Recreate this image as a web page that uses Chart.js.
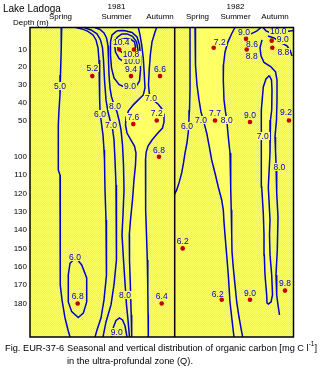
<!DOCTYPE html>
<html><head><meta charset="utf-8">
<script src="https://cdn.jsdelivr.net/npm/chart.js@4.4.1/dist/chart.umd.min.js"></script>
<style>html,body{margin:0;padding:0;background:#fff;}#wrap{width:324px;height:370px;position:relative;}canvas{display:block;}</style>
</head><body><div id="wrap"><canvas id="c" width="324" height="370"></canvas></div>
<script>
// ---------------- data ----------------
const chartTitle = 'Lake Ladoga';
const depthTitle = 'Depth (m)';
const captionFig = 'Fig. EUR-37-6';
const captionLine1 = 'Seasonal and vertical distribution of organic carbon [mg C l';
const captionSup = '-1';
const captionEnd = ']';
const captionLine2 = 'in the ultra-profundal zone (Q).';

// time axis (arbitrary time index), seasons
const seasonNames = ['Spring','Summer','Autumn','Spring','Summer','Autumn'];
const seasonYears = ['', '1981', '', '', '1982', ''];
const seasonX = [30.5, 86.5, 130, 167.5, 205.5, 245];
const timeMin = 0, timeMax = 263.5;
const yearBoundaryX = 144.7;

// depth axis (m)
const depthTicks = [10,20,30,40,50,100,110,120,130,140,150,160,170,180];
const depthMin = -2.4, depthMax = 198.3;

// measurements: time index, depth (m), organic carbon (mg C/l)
const sampleX     = [62.3, 89.3, 104, 101, 130, 103.3, 126.7, 129, 47.7, 131.7, 183.7, 216, 216.7, 241.7, 242.3, 185, 220, 259, 152.7, 191.7, 220, 255];
const sampleDepth = [25, 10, 10, 25, 25, 55, 50, 100, 180, 180, 9, 4, 10, 5, 9, 50, 52, 50, 150, 178, 178, 173];
const sampleValue = [5.2, 10.4, 10.8, 9.4, 6.6, 7.6, 7.2, 6.8, 6.8, 6.4, 7.2, 8.6, 8.8, 9.0, 8.8, 7.7, 9.0, 9.2, 6.2, 6.2, 9.0, 9.8];

// contour labels
const contourLabelX     = [30, 70, 81, 85, 100, 101.7, 121, 45, 95, 86.7, 157, 171, 196.7, 214, 248.3, 232.7, 249.3];
const contourLabelDepth = [30.5, 46.6, 56.2, 42.1, 30.5, 16.8, 37.3, 154.7, 175.4, 195.4, 57.6, 49.7, 49.7, 0, -0.5, 71.0, 105.5];
const contourLabelLevel = [5.0, 6.0, 7.0, 8.0, 9.0, 10.0, 7.0, 6.0, 8.0, 9.0, 6.0, 7.0, 8.0, 9.0, 10.0, 7.0, 8.0];

// contour lines: [time index, depth m]
const contour50_1981 = [[31.7,-2.4],[31.2,10.3],[30.5,24.3],[30,35.6],[29,44.1],[28.3,56.2],[28.3,107.2],[30,110.0],[30,150.8],[30.5,169.9],[32,178.1],[35,187.9],[38,194.5],[40,198.3]];
const contour60_1981 = [[46,-2.4],[52,-1.6],[58,-0.2],[63,1.8],[66,4.6],[68,9.1],[69,15.9],[69.5,27.2],[69.8,38.4],[70,44.1],[71,49.7],[73,70.1],[74,90.8],[74.5,101.8],[75,118.1],[76,134.5],[76.7,145.4],[76.7,153.6],[76,164.5],[74,178.1],[71,188.0],[67,194.5],[65,198.3]];
const contour60_1981_loop = [[45,155.5],[40,158.1],[38.3,164.5],[38.3,179.2],[41.7,184.5],[48.3,187.7],[53.3,185.3],[56.7,179.2],[56.7,166.1],[51.7,159.0],[47,155.8],[45,155.5]];
const contour70_1981 = [[54,-2.4],[61,-1.0],[67,1.2],[70.5,4.6],[72.5,9.1],[73.5,15.9],[74.5,27.2],[76,38.4],[78,45.2],[80,49.7],[82.7,63.1],[84,77.0],[85,101.8],[86,115.4],[86.7,129.0],[86.7,142.6],[86,156.2],[84,169.8],[81,180.8],[76,190.1],[73,198.3]];
const contour80_1981 = [[65,-2.4],[70,-1.3],[74,0.7],[76.5,3.5],[78,8.0],[78.5,15.9],[79,24.3],[80,31.7],[81.5,36.7],[83.5,40.1],[87,45.2],[89,49.7],[91,63.1],[92.5,83.9],[93.5,104.5],[94,118.1],[93,131.8],[92,142.6],[93.5,156.2],[95,168.8],[96.5,180.8],[98,189.0],[99.5,198.3]];
const contour90_1981_arch = [[81.7,198.3],[83.5,192.8],[86,189.3],[89.5,187.9],[92.5,189.0],[95,192.2],[97,198.3]];
const contour90_1981_loop = [[87,-0.5],[82,1.8],[80.5,5.7],[80.5,13.1],[81.5,20.4],[84,26.0],[89,29.7],[94,31.1],[106.5,30.5],[109.5,27.7],[110.5,21.5],[110.5,14.2],[109.5,7.4],[107,2.9],[102,0.4],[94,-0.7],[87,-0.5]];
const contour100_1981_loop = [[92,1.2],[87,3.2],[84.5,6.9],[85.5,11.4],[89,15.0],[94,17.0],[107.5,15.3],[108,10.3],[106.5,5.7],[102.5,2.6],[97,1.2],[92,1.2]];
const contour105_1981_loop = [[90.5,4.3],[87.5,6.6],[88,9.7],[92,11.7],[97,11.9],[103,11.1],[105.5,8.6],[104.5,5.7],[101,4.3],[96,3.8],[90.5,4.3]];
const band1981_left = [[108.3,-2.4],[110,1.8],[111.7,7.4],[113.3,14.8],[114.3,24.3],[115,31.7],[113.3,35.6],[108.3,38.4],[103.3,41.2],[98.5,44.6],[96,48.6],[95.5,56.2],[97,67.3],[101,77.0],[104.5,85.3],[106,95.0],[105.5,104.5],[104,112.7],[102.5,123.6],[100.5,134.5],[99.3,142.6],[99.5,156.2],[100.5,172.6],[101.2,186.2],[101.7,198.3]];
const band1981_right = [[126.7,-2.4],[125,0.1],[122,5.7],[120.3,13.1],[119.2,21.5],[118.5,30.0],[119.5,35.6],[123,38.4],[128,40.7],[132,43.5],[134,46.9],[134,52.1],[132.5,60.4],[127,68.7],[122,77.0],[118,85.3],[116.2,93.6],[115.5,101.8],[115.5,112.7],[115.8,129.0],[116.5,142.6],[117.3,156.2],[117.8,172.6],[118.1,186.2],[118.3,198.3]];
const contour60_1982 = [[160,-2.4],[160,15.9],[160,32.8],[159.5,44.1],[159,48.6],[158.3,65.9],[157,81.1],[155,95.0],[153.5,103.4],[151.7,108.8],[149,114.3],[146.7,118.1],[144.7,120.3]];
const band1982_left = [[165,-2.4],[165.3,7.4],[165.7,18.7],[167,30.0],[169,38.4],[171,45.2],[173.3,49.7],[176.7,67.3],[179,83.9],[181.7,101.8],[185,108.9],[188.3,116.5],[191.7,123.6],[193.3,129.0],[194,135.6],[195,142.6],[196.7,153.6],[198.3,164.5],[200,179.2],[202,189.0],[204,198.3]];
const band1982_right = [[205,-2.4],[202,0.7],[198,5.7],[195,11.4],[193.5,18.7],[193.3,27.2],[194,38.4],[195.5,45.2],[196.7,49.7],[198.3,72.8],[200,95.0],[200.7,116.5],[201.2,129.0],[201.7,142.6],[202,151.9],[203.3,160.6],[205,169.9],[206.7,179.2],[209,187.4],[211.7,195.6],[212.7,198.3]];
const band1982_loop = [[239.3,24.7],[241.5,27.2],[242,32.8],[241.7,44.1],[240.5,49.7],[240,95.0],[238.3,116.5],[240,134.5],[239.5,142.6],[240,153.6],[241.7,164.5],[242.5,175.4],[241,179.2],[238.3,180.3],[237,179.7],[236.7,175.4],[235,164.5],[234.3,153.6],[234,142.6],[233.3,130.7],[231.7,116.5],[231,95.0],[231.3,49.7],[231.7,44.1],[233.3,31.1],[236,26.6],[239.3,24.7]];
const contour80_1982 = [[232,4.6],[230,9.1],[231,13.6],[234,17.3],[241,19.8],[245.5,22.6],[247,27.2],[247,38.4],[246.5,49.7],[245,72.8],[245.5,90.8],[246,103.4],[246.7,119.8],[248,132.9],[247.3,150.9],[246,164.5],[246.7,175.4],[248,180.8],[249.5,186.3]];
const contour90_1982a = [[208,-2.4],[209.5,0.1],[214,1.8],[221,1.2],[227,-0.5],[231,-2.4]];
const contour90_1982b = [[238,2.4],[244,3.5],[251,6.3],[257,8.0],[260,10.3],[262,13.6]];
const contour100_1982 = [[233,-2.4],[236,-0.5],[241,0.7],[246,0.1],[256,-0.2],[263.5,-0.7]];

// ---------------- style / layout ----------------
const FONT = "'Liberation Sans', Arial, Helvetica, sans-serif";
const BLUE = '#0000c8';
const RED = '#c00000';
const SOLID = '#ffff66';
const labelOffsets = {0:[0,-8],1:[2,-7],2:[-3,5],10:[6,-6],11:[6,5],12:[5,7],13:[11,-1],14:[11,4],17:[-3,-8],19:[-4,-6]};

// broken depth axis: 0-50 m, 50-100 m compressed, 100+ m
function depthToAxis(d) {
  if (d <= 50) return 2.343 + 0.9673 * d;
  if (d <= 100) return 50.71 + 0.3946 * (d - 50);
  return 70.44 + (d - 100);
}

const pc = document.createElement('canvas'); pc.width = 2; pc.height = 2;
const pg = pc.getContext('2d');
pg.fillStyle = '#e4e0c8'; pg.fillRect(0,0,2,2);
pg.fillStyle = SOLID; pg.fillRect(0,0,1,1); pg.fillRect(1,1,1,1);

const canvas = document.getElementById('c');
const ctx0 = canvas.getContext('2d');
const hatch = ctx0.createPattern(pc, 'repeat');

const toPts = arr => arr.map(p => ({x: p[0], y: depthToAxis(p[1])}));
const solidPolys = [
  band1981_left.concat(band1981_right.slice().reverse()),
  band1982_left.concat(band1982_right.slice().reverse()),
  band1982_loop
];
const lineArrays = [contour50_1981, contour60_1981, contour60_1981_loop, contour70_1981, contour80_1981,
  contour90_1981_arch, contour90_1981_loop, contour100_1981_loop, contour105_1981_loop, band1981_left, band1981_right,
  contour60_1982, band1982_left, band1982_right, band1982_loop, contour80_1982, contour90_1982a, contour90_1982b, contour100_1982];

const datasets = [{
  data: sampleX.map((x, i) => ({x, y: depthToAxis(sampleDepth[i])})),
  showLine: false, pointRadius: 2.3, pointBackgroundColor: RED, pointBorderWidth: 0, pointStyle: 'circle'
}].concat(lineArrays.map(arr => ({
  data: toPts(arr), showLine: true, pointRadius: 0, borderColor: BLUE, borderWidth: 1.5, fill: false, tension: 0
})));

function polyPath(poly, xs, ys) {
  const p = new Path2D();
  poly.forEach((pt, i) => {
    const px = xs.getPixelForValue(pt[0]), py = ys.getPixelForValue(depthToAxis(pt[1]));
    if (i === 0) p.moveTo(px, py); else p.lineTo(px, py);
  });
  p.closePath();
  return p;
}

function drawTag(ctx, paths, text, cx, cy) {
  ctx.font = '8.5px ' + FONT;
  const w = ctx.measureText(text).width;
  const inside = paths.some(p => ctx.isPointInPath(p, cx, cy));
  ctx.fillStyle = inside ? SOLID : hatch;
  ctx.fillRect(Math.round(cx - w / 2 - 1), Math.round(cy - 4), Math.round(w + 2), 8);
  ctx.fillStyle = BLUE;
  ctx.textAlign = 'center'; ctx.textBaseline = 'middle';
  ctx.fillText(text, cx, cy + 0.5);
}

const plugin = {
  id: 'contourDecor',
  beforeDatasetsDraw(chart) {
    const {ctx, chartArea: a, scales: {x, y}} = chart;
    ctx.save();
    ctx.beginPath(); ctx.rect(a.left, a.top, a.right - a.left, a.bottom - a.top); ctx.clip();
    ctx.fillStyle = hatch; ctx.fillRect(a.left, a.top, a.right - a.left, a.bottom - a.top);
    ctx.fillStyle = SOLID;
    chart.$solidPaths = solidPolys.map(p => polyPath(p, x, y));
    chart.$solidPaths.forEach(p => ctx.fill(p));
    ctx.restore();
  },
  afterDatasetDraw(chart, args) {
    if (args.index !== 1) return;
    const {ctx, chartArea: a, scales: {x, y}} = chart;
    ctx.save();
    ctx.beginPath(); ctx.rect(a.left, a.top, a.right - a.left, a.bottom - a.top); ctx.clip();
    const paths = chart.$solidPaths || [];
    contourLabelX.forEach((cx, i) => {
      drawTag(ctx, paths, contourLabelLevel[i].toFixed(1), x.getPixelForValue(cx), y.getPixelForValue(depthToAxis(contourLabelDepth[i])));
    });
    sampleX.forEach((sx, i) => {
      const off = labelOffsets[i] || [0, -7];
      drawTag(ctx, paths, sampleValue[i].toFixed(1), x.getPixelForValue(sx) + off[0], y.getPixelForValue(depthToAxis(sampleDepth[i])) + off[1]);
    });
    ctx.restore();
  },
  afterDatasetsDraw(chart) {
    const {ctx, chartArea: a, scales: {x}} = chart;
    ctx.save();
    ctx.strokeStyle = '#000'; ctx.lineWidth = 1.5;
    const bx = x.getPixelForValue(yearBoundaryX);
    ctx.beginPath(); ctx.moveTo(bx, a.top); ctx.lineTo(bx, a.bottom); ctx.stroke();
    ctx.strokeRect(a.left, a.top, a.right - a.left, a.bottom - a.top);
    ctx.restore();
  },
  afterDraw(chart) {
    const ctx = chart.ctx;
    ctx.save();
    ctx.fillStyle = '#000'; ctx.textAlign = 'left'; ctx.textBaseline = 'middle';
    ctx.font = '10px ' + FONT; ctx.fillText(chartTitle, 3, 9);
    ctx.font = '8px ' + FONT; ctx.fillText(depthTitle, 13, 23);
    ctx.font = '9.25px ' + FONT;
    ctx.fillText(captionFig, 5, 348);
    let cx = 67;
    ctx.fillText(captionLine1, cx, 348); cx += ctx.measureText(captionLine1).width;
    ctx.font = '6.5px ' + FONT; ctx.fillText(captionSup, cx, 344.5); cx += ctx.measureText(captionSup).width;
    ctx.font = '9.25px ' + FONT; ctx.fillText(captionEnd, cx, 348);
    ctx.fillText(captionLine2, 67, 361);
    ctx.restore();
  }
};

new Chart(canvas, {
  type: 'scatter',
  data: { datasets },
  options: {
    responsive: false, animation: false, events: [],
    layout: { padding: { left: 0, top: 0, right: 30.5, bottom: 33 } },
    plugins: { legend: { display: false }, tooltip: { enabled: false } },
    scales: {
      x: {
        type: 'linear', position: 'top', min: timeMin, max: timeMax,
        grid: { display: false, drawTicks: false }, border: { display: false },
        afterBuildTicks: s => { s.ticks = seasonX.map(v => ({ value: v })); },
        afterFit: s => { s.height = 27.5; },
        ticks: {
          autoSkip: false, maxRotation: 0, padding: 5.5, color: '#000',
          font: { size: 8, lineHeight: 1.25, family: FONT },
          callback: (v, i) => [seasonYears[i], seasonNames[i]]
        }
      },
      y: {
        type: 'linear', position: 'left', reverse: true,
        min: depthToAxis(depthMin), max: depthToAxis(depthMax),
        grid: { display: false, drawTicks: false }, border: { display: false },
        afterBuildTicks: s => { s.ticks = depthTicks.map(d => ({ value: depthToAxis(d) })); },
        afterFit: s => { s.width = 30; },
        ticks: {
          autoSkip: false, padding: 3, color: '#000',
          font: { size: 8, family: FONT },
          callback: (v, i) => String(depthTicks[i])
        }
      }
    }
  },
  plugins: [plugin]
});
</script>
</body></html>
